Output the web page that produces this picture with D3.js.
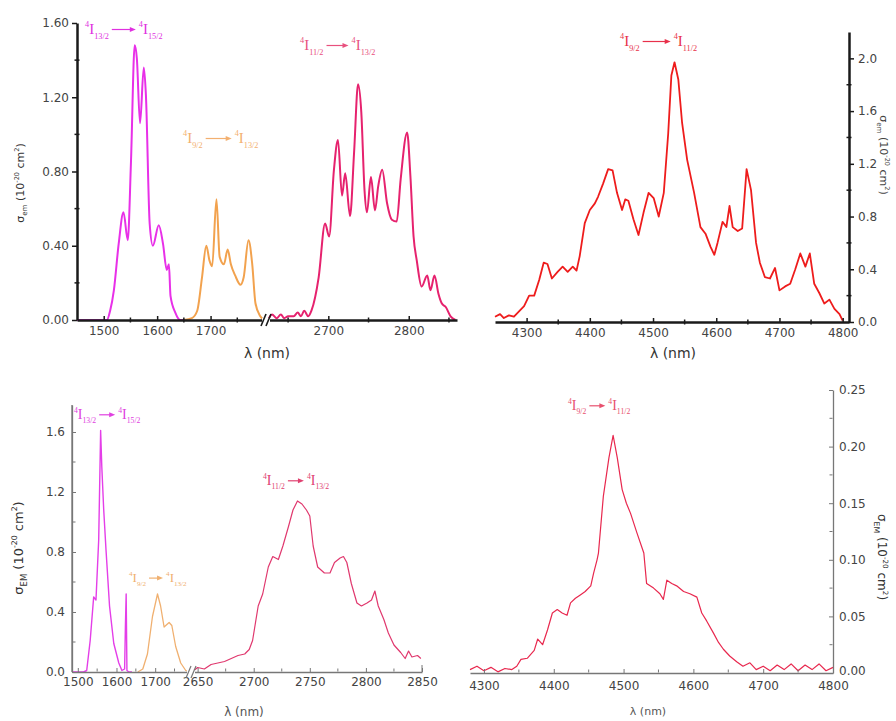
<!DOCTYPE html>
<html><head><meta charset="utf-8">
<script src="https://cdn.jsdelivr.net/npm/d3@7"></script>
<style>body{margin:0;background:#fff}svg{display:block}</style>
</head><body>
<svg id="c" width="896" height="721"></svg>
<script>
// ---------- DATA ----------
// top-left panel (sigma_em, 1e-20 cm^2)
const tlMagenta = [[1450,0],[1480,0],[1506,0],[1512,0.05],[1519,0.16],[1528,0.41],[1537,0.58],[1545,0.43],[1551,0.85],[1558,1.48],[1562,1.41],[1568,1.06],[1575,1.36],[1579,1.21],[1586,0.52],[1592,0.40],[1603,0.51],[1611,0.41],[1618,0.27],[1622,0.30],[1625,0.13],[1634,0.04],[1643,0],[1650,0]];
const tlOrange = [[1650,0],[1665,0.01],[1675,0.05],[1684,0.23],[1692,0.40],[1698,0.32],[1703,0.29],[1711,0.65],[1717,0.34],[1725,0.30],[1732,0.38],[1738,0.30],[1746,0.24],[1756,0.19],[1762,0.23],[1771,0.43],[1778,0.30],[1784,0.09],[1793,0.02],[1800,0]];
const tlPink = [[2625,0],[2630,0.03],[2636,0.01],[2641,0.03],[2645,0.01],[2650,0.02],[2657,0.02],[2662,0.04],[2666,0.02],[2670,0.05],[2675,0.02],[2679,0.05],[2688,0.23],[2696,0.52],[2701,0.45],[2707,0.81],[2712,0.97],[2717,0.67],[2721,0.79],[2727,0.56],[2732,0.90],[2737,1.27],[2741,1.12],[2745,0.70],[2748,0.58],[2753,0.77],[2758,0.59],[2762,0.72],[2767,0.81],[2773,0.63],[2779,0.54],[2785,0.53],[2790,0.76],[2798,1.01],[2802,0.78],[2806,0.45],[2810,0.32],[2816,0.18],[2823,0.24],[2827,0.16],[2832,0.24],[2837,0.14],[2841,0.09],[2846,0.07],[2852,0.02],[2858,0]];
// top-right panel
const trRed = [[4250,0.04],[4258,0.06],[4264,0.03],[4272,0.05],[4280,0.04],[4288,0.08],[4296,0.12],[4304,0.20],[4312,0.20],[4320,0.32],[4327,0.45],[4333,0.44],[4340,0.33],[4349,0.38],[4357,0.42],[4365,0.38],[4373,0.42],[4379,0.39],[4384,0.50],[4392,0.75],[4400,0.85],[4408,0.90],[4413,0.95],[4421,1.05],[4429,1.16],[4436,1.15],[4443,0.98],[4451,0.85],[4456,0.93],[4461,0.92],[4469,0.78],[4477,0.66],[4485,0.83],[4493,0.98],[4501,0.94],[4509,0.80],[4517,0.98],[4524,1.43],[4529,1.87],[4534,1.97],[4540,1.84],[4546,1.51],[4554,1.23],[4565,0.98],[4575,0.72],[4583,0.67],[4591,0.57],[4597,0.51],[4602,0.60],[4610,0.76],[4616,0.72],[4621,0.88],[4626,0.72],[4634,0.69],[4641,0.71],[4648,1.16],[4655,1.00],[4663,0.60],[4669,0.45],[4677,0.34],[4685,0.33],[4693,0.41],[4700,0.24],[4709,0.27],[4717,0.29],[4725,0.40],[4733,0.52],[4741,0.42],[4748,0.52],[4755,0.29],[4763,0.22],[4771,0.14],[4779,0.17],[4787,0.10],[4795,0.06],[4800,0.01]];
// bottom-left panel
const blMagenta = [[1485,0],[1500,0],[1515,0],[1523,0.01],[1532,0.21],[1541,0.50],[1547,0.48],[1554,0.88],[1559,1.61],[1562,1.37],[1567,1.08],[1573,0.81],[1582,0.44],[1593,0.19],[1606,0.06],[1614,0.01],[1621,0.02],[1623,0.30],[1625,0.52],[1627,0.01],[1632,0],[1640,0]];
const blOrange = [[1655,0],[1668,0.02],[1680,0.12],[1693,0.37],[1706,0.52],[1714,0.44],[1723,0.30],[1736,0.33],[1743,0.31],[1753,0.17],[1766,0.06],[1779,0.01],[1790,0]];
const blPink = [[2645,0],[2650,0.03],[2656,0.02],[2662,0.05],[2668,0.06],[2674,0.07],[2680,0.09],[2686,0.11],[2692,0.12],[2696,0.15],[2699,0.21],[2704,0.44],[2708,0.52],[2713,0.70],[2717,0.77],[2722,0.75],[2726,0.84],[2731,0.97],[2735,1.08],[2739,1.14],[2743,1.12],[2747,1.08],[2750,1.04],[2753,0.84],[2757,0.70],[2763,0.66],[2768,0.66],[2772,0.73],[2777,0.76],[2780,0.77],[2783,0.73],[2787,0.59],[2792,0.46],[2796,0.44],[2801,0.46],[2805,0.48],[2808,0.54],[2811,0.44],[2816,0.35],[2820,0.26],[2825,0.18],[2831,0.13],[2835,0.09],[2838,0.14],[2841,0.10],[2846,0.11],[2849,0.09]];
// bottom-right panel
const brRed = [[4280,0.003],[4290,0.006],[4300,0.002],[4310,0.005],[4320,0.001],[4330,0.004],[4340,0.003],[4347,0.006],[4353,0.012],[4362,0.013],[4372,0.02],[4377,0.03],[4384,0.025],[4391,0.038],[4398,0.053],[4405,0.056],[4412,0.053],[4419,0.051],[4424,0.062],[4431,0.066],[4438,0.069],[4445,0.072],[4453,0.077],[4457,0.088],[4462,0.10],[4464,0.106],[4471,0.156],[4479,0.19],[4485,0.21],[4491,0.19],[4498,0.162],[4504,0.150],[4510,0.141],[4519,0.124],[4529,0.106],[4533,0.079],[4543,0.075],[4552,0.07],[4557,0.065],[4562,0.082],[4569,0.079],[4576,0.077],[4586,0.072],[4595,0.07],[4605,0.067],[4612,0.053],[4619,0.046],[4629,0.035],[4636,0.027],[4643,0.021],[4652,0.015],[4662,0.01],[4671,0.006],[4681,0.009],[4690,0.003],[4700,0.006],[4710,0.002],[4720,0.007],[4730,0.003],[4740,0.008],[4750,0.002],[4760,0.007],[4770,0.003],[4780,0.008],[4790,0.002],[4800,0.005]];

// tick values
const tlYTicks = [0,0.4,0.8,1.2,1.6], tlYMinor = [0.2,0.6,1.0,1.4];
const tlX1Ticks = [1500,1600,1700], tlX1Minor = [1550,1650,1750];
const tlX2Ticks = [2700,2800], tlX2Minor = [2650,2750,2850];
const trXTicks = [4300,4400,4500,4600,4700,4800], trXMinor = [4350,4450,4550,4650,4750];
const trYTicks = [0,0.4,0.8,1.2,1.6,2.0], trYMinor = [0.2,0.6,1.0,1.4,1.8];
const blYTicks = [0,0.4,0.8,1.2,1.6], blYMinor = [0.2,0.6,1.0,1.4];
const blX1Ticks = [1500,1600,1700], blX1Minor = [1550,1650,1750];
const blX2Ticks = [2650,2700,2750,2800,2850], blX2Minor = [2675,2725,2775,2825];
const brXTicks = [4300,4400,4500,4600,4700,4800], brXMinor = [4350,4450,4550,4650,4750];
const brYTicks = [0,0.05,0.10,0.15,0.20,0.25], brYMinor = [0.025,0.075,0.125,0.175,0.225];

// ---------- DRAW ----------
const svg = d3.select("#c");
const FONT = "DejaVu Sans, Verdana, sans-serif";
const fmtInt = d3.format("d");

function plotLine(g, data, xs, ys, color, w, curve) {
  g.append("path").datum(data)
    .attr("fill","none").attr("stroke",color).attr("stroke-width",w).attr("stroke-linejoin","round")
    .attr("d", d3.line().x(d=>xs(d[0])).y(d=>ys(d[1])).curve(curve||d3.curveLinear));
}
function styleAxis(sel, color, w, fs, tc) {
  sel.selectAll("path").attr("stroke",color).attr("stroke-width",w);
  sel.selectAll("line").attr("stroke",color).attr("stroke-width",Math.max(1,w*0.6));
  sel.selectAll("text").attr("font-family",FONT).attr("font-size",fs).attr("fill",tc);
}
function annot(x, y, a, b, color, fs, arrowLen) {
  const g = svg.append("g").attr("fill",color).attr("font-family","Liberation Serif, Times New Roman, serif");
  let t = g.append("text").attr("x",x).attr("y",y).attr("font-size",fs);
  t.append("tspan").attr("font-size",fs*0.55).attr("dy",-fs*0.45).text("4");
  t.append("tspan").attr("dy",fs*0.45).text("I");
  t.append("tspan").attr("font-size",fs*0.55).attr("dy",fs*0.3).text(a);
  const w1 = t.node().getComputedTextLength();
  const ax0 = x + w1 + 3, ax1 = ax0 + arrowLen;
  g.append("line").attr("x1",ax0).attr("x2",ax1-4).attr("y1",y-fs*0.3).attr("y2",y-fs*0.3).attr("stroke",color).attr("stroke-width",1.2);
  g.append("path").attr("d",`M${ax1},${y-fs*0.3} l-6,-2.5 l0,5 z`);
  let t2 = g.append("text").attr("x",ax1+3).attr("y",y).attr("font-size",fs);
  t2.append("tspan").attr("font-size",fs*0.55).attr("dy",-fs*0.45).text("4");
  t2.append("tspan").attr("dy",fs*0.45).text("I");
  t2.append("tspan").attr("font-size",fs*0.55).attr("dy",fs*0.3).text(b);
}
function yLabel(x, y, rot, sub, fs, color) {
  const t = svg.append("text").attr("transform",`translate(${x},${y}) rotate(${rot})`)
    .attr("text-anchor","middle").attr("font-family",FONT).attr("font-size",fs).attr("fill",color);
  t.append("tspan").text("σ");
  t.append("tspan").attr("font-size",fs*0.65).attr("dy",fs*0.3).text(sub);
  t.append("tspan").attr("dy",-fs*0.3).text(" (10");
  t.append("tspan").attr("font-size",fs*0.6).attr("dy",-fs*0.45).text("-20");
  t.append("tspan").attr("dy",fs*0.45).text(" cm");
  t.append("tspan").attr("font-size",fs*0.6).attr("dy",-fs*0.45).text("2");
  t.append("tspan").attr("dy",fs*0.45).text(")");
}
function xLabel(x, y, fs, color) {
  svg.append("text").attr("x",x).attr("y",y).attr("text-anchor","middle")
    .attr("font-family",FONT).attr("font-size",fs).attr("fill",color).text("λ (nm)");
}
function breakMark(x, y, color, w) {
  svg.append("rect").attr("x",x-4).attr("y",y-2).attr("width",8).attr("height",4).attr("fill","#fff");
  [-3,2].forEach(o => svg.append("line").attr("x1",x+o-2).attr("x2",x+o+3).attr("y1",y+6).attr("y2",y-6)
    .attr("stroke",color).attr("stroke-width",w));
}
function minorTicks(g, scale, vals, orient, len, color, w) {
  vals.forEach(v => {
    const p = scale(v);
    if (orient === "x") g.append("line").attr("x1",p).attr("x2",p).attr("y1",-len/2).attr("y2",len/2).attr("stroke",color).attr("stroke-width",w);
    else g.append("line").attr("y1",p).attr("y2",p).attr("x1",-len/2).attr("x2",len/2).attr("stroke",color).attr("stroke-width",w);
  });
}

// ===== Top-left =====
{
  const y = d3.scaleLinear().domain([0,1.6]).range([320,23]);
  const x1 = d3.scaleLinear().domain([1450,1800]).range([77,264]);
  const x2 = d3.scaleLinear().domain([2625,2860]).range([268,457]);
  const ax = "#1a1a1a";
  plotLine(svg, tlMagenta, x1, y, "#e830e8", 2, d3.curveMonotoneX);
  plotLine(svg, tlOrange, x1, y, "#f2a24e", 2, d3.curveMonotoneX);
  plotLine(svg, tlPink, x2, y, "#e6226e", 2, d3.curveMonotoneX);
  const gy = svg.append("g").attr("transform","translate(77,0)")
    .call(d3.axisLeft(y).tickValues(tlYTicks).tickFormat(d3.format(".2f")).tickSizeInner(5).tickSizeOuter(0).tickPadding(3));
  styleAxis(gy, ax, 2.5, 12, "#444");
  minorTicks(svg.append("g").attr("transform","translate(77,0)"), y, tlYMinor, "y", 5, ax, 1.5);
  const gx1 = svg.append("g").attr("transform","translate(0,320)")
    .call(d3.axisBottom(x1).tickValues(tlX1Ticks).tickFormat(fmtInt).tickSizeInner(-4).tickSizeOuter(0).tickPadding(6));
  styleAxis(gx1, ax, 2.5, 12, "#444");
  minorTicks(svg.append("g").attr("transform","translate(0,320)"), x1, tlX1Minor, "x", 5, ax, 1.5);
  const gx2 = svg.append("g").attr("transform","translate(0,320)")
    .call(d3.axisBottom(x2).tickValues(tlX2Ticks).tickFormat(fmtInt).tickSizeInner(-4).tickSizeOuter(0).tickPadding(6));
  styleAxis(gx2, ax, 2.5, 12, "#444");
  minorTicks(svg.append("g").attr("transform","translate(0,320)"), x2, tlX2Minor, "x", 5, ax, 1.5);
  breakMark(266, 320, ax, 1.6);
  yLabel(24, 183, -90, "em", 11, "#333");
  xLabel(267, 358, 14, "#333");
  annot(85, 34, "13/2", "15/2", "#e030e0", 15, 24);
  annot(183, 143, "9/2", "13/2", "#f3b070", 15, 26);
  annot(300, 50, "11/2", "13/2", "#e8507e", 15, 22);
}

// ===== Top-right =====
{
  const y = d3.scaleLinear().domain([0,2.2]).range([322,32]);
  const x = d3.scaleLinear().domain([4250,4810]).range([495,849]);
  const ax = "#1a1a1a";
  plotLine(svg, trRed, x, y, "#ee1c1c", 1.8);
  const gy = svg.append("g").attr("transform","translate(849,0)")
    .call(d3.axisRight(y).tickValues(trYTicks).tickFormat(d3.format(".1f")).tickSizeInner(5).tickSizeOuter(0).tickPadding(4));
  styleAxis(gy, ax, 2.5, 12, "#444");
  minorTicks(svg.append("g").attr("transform","translate(849,0)"), y, trYMinor, "y", 5, ax, 1.5);
  const gx = svg.append("g").attr("transform","translate(0,322)")
    .call(d3.axisBottom(x).tickValues(trXTicks).tickFormat(fmtInt).tickSizeInner(-4).tickSizeOuter(0).tickPadding(6));
  styleAxis(gx, ax, 2.5, 12, "#444");
  minorTicks(svg.append("g").attr("transform","translate(0,322)"), x, trXMinor, "x", 5, ax, 1.5);
  yLabel(880, 155, 90, "em", 11, "#444");
  xLabel(673, 358, 14, "#333");
  annot(620, 46, "9/2", "11/2", "#e8304a", 15, 28);
}

// ===== Bottom-left =====
{
  const y = d3.scaleLinear().domain([0,1.78]).range([672,405]);
  const x1 = d3.scaleLinear().domain([1485,1790]).range([72,190]);
  const x2 = d3.scaleLinear().domain([2645,2850]).range([192,422]);
  const ax = "#777";
  plotLine(svg, blMagenta, x1, y, "#e43ee8", 1.4);
  plotLine(svg, blOrange, x1, y, "#f0b070", 1.3);
  plotLine(svg, blPink, x2, y, "#e0386e", 1.2);
  const gy = svg.append("g").attr("transform","translate(72,0)")
    .call(d3.axisLeft(y).tickValues(blYTicks).tickFormat(d3.format(".1f")).tickSizeInner(-4).tickSizeOuter(0).tickPadding(7));
  styleAxis(gy, ax, 1.3, 12, "#444");
  svg.append("line").attr("x1",72).attr("x2",72).attr("y1",405).attr("y2",672).attr("stroke",ax).attr("stroke-width",1.3);
  minorTicks(svg.append("g").attr("transform","translate(74,0)"), y, blYMinor, "y", 3, ax, 1);
  const gx1 = svg.append("g").attr("transform","translate(0,672)")
    .call(d3.axisBottom(x1).tickValues(blX1Ticks).tickFormat(fmtInt).tickSizeInner(-4).tickSizeOuter(0).tickPadding(5));
  styleAxis(gx1, ax, 1.3, 12, "#444");
  minorTicks(svg.append("g").attr("transform","translate(0,670)"), x1, blX1Minor, "x", 3, ax, 1);
  const gx2 = svg.append("g").attr("transform","translate(0,672)")
    .call(d3.axisBottom(x2).tickValues(blX2Ticks).tickFormat(fmtInt).tickSizeInner(-4).tickSizeOuter(0).tickPadding(5));
  styleAxis(gx2, ax, 1.3, 12, "#444");
  minorTicks(svg.append("g").attr("transform","translate(0,670)"), x2, blX2Minor, "x", 3, ax, 1);
  svg.append("line").attr("x1",422).attr("x2",422).attr("y1",665).attr("y2",672).attr("stroke",ax);
  breakMark(191, 672, ax, 1.2);
  yLabel(23, 548, -90, "EM", 13, "#333");
  xLabel(244, 716, 12, "#555");
  annot(74, 419, "13/2", "15/2", "#e040e0", 14, 16);
  annot(129, 582, "9/2", "13/2", "#f0b070", 13, 14);
  annot(263, 485, "11/2", "13/2", "#e04070", 14, 16);
}

// ===== Bottom-right =====
{
  const y = d3.scaleLinear().domain([0,0.25]).range([673,390]);
  const x = d3.scaleLinear().domain([4280,4800]).range([470,833]);
  const ax = "#777";
  plotLine(svg, brRed, x, y, "#e8284e", 1.2);
  const gy = svg.append("g").attr("transform","translate(833,0)")
    .call(d3.axisRight(y).tickValues(brYTicks).tickFormat(d3.format(".2f")).tickSizeInner(-4).tickSizeOuter(0).tickPadding(6));
  styleAxis(gy, ax, 1.3, 12, "#444");
  gy.selectAll(".tick text").filter(d => d === 0).attr("dy","0.1em");
  minorTicks(svg.append("g").attr("transform","translate(831,0)"), y, brYMinor, "y", 3, ax, 1);
  const gx = svg.append("g").attr("transform","translate(0,673)")
    .call(d3.axisBottom(x).tickValues(brXTicks).tickFormat(fmtInt).tickSizeInner(-4).tickSizeOuter(0).tickPadding(8));
  styleAxis(gx, ax, 1.3, 12, "#444");
  minorTicks(svg.append("g").attr("transform","translate(0,671)"), x, brXMinor, "x", 3, ax, 1);
  yLabel(878, 557, 90, "EM", 12, "#333");
  xLabel(648, 715, 11, "#555");
  annot(568, 410, "9/2", "11/2", "#e8506e", 14, 16);
}
</script>
</body></html>
